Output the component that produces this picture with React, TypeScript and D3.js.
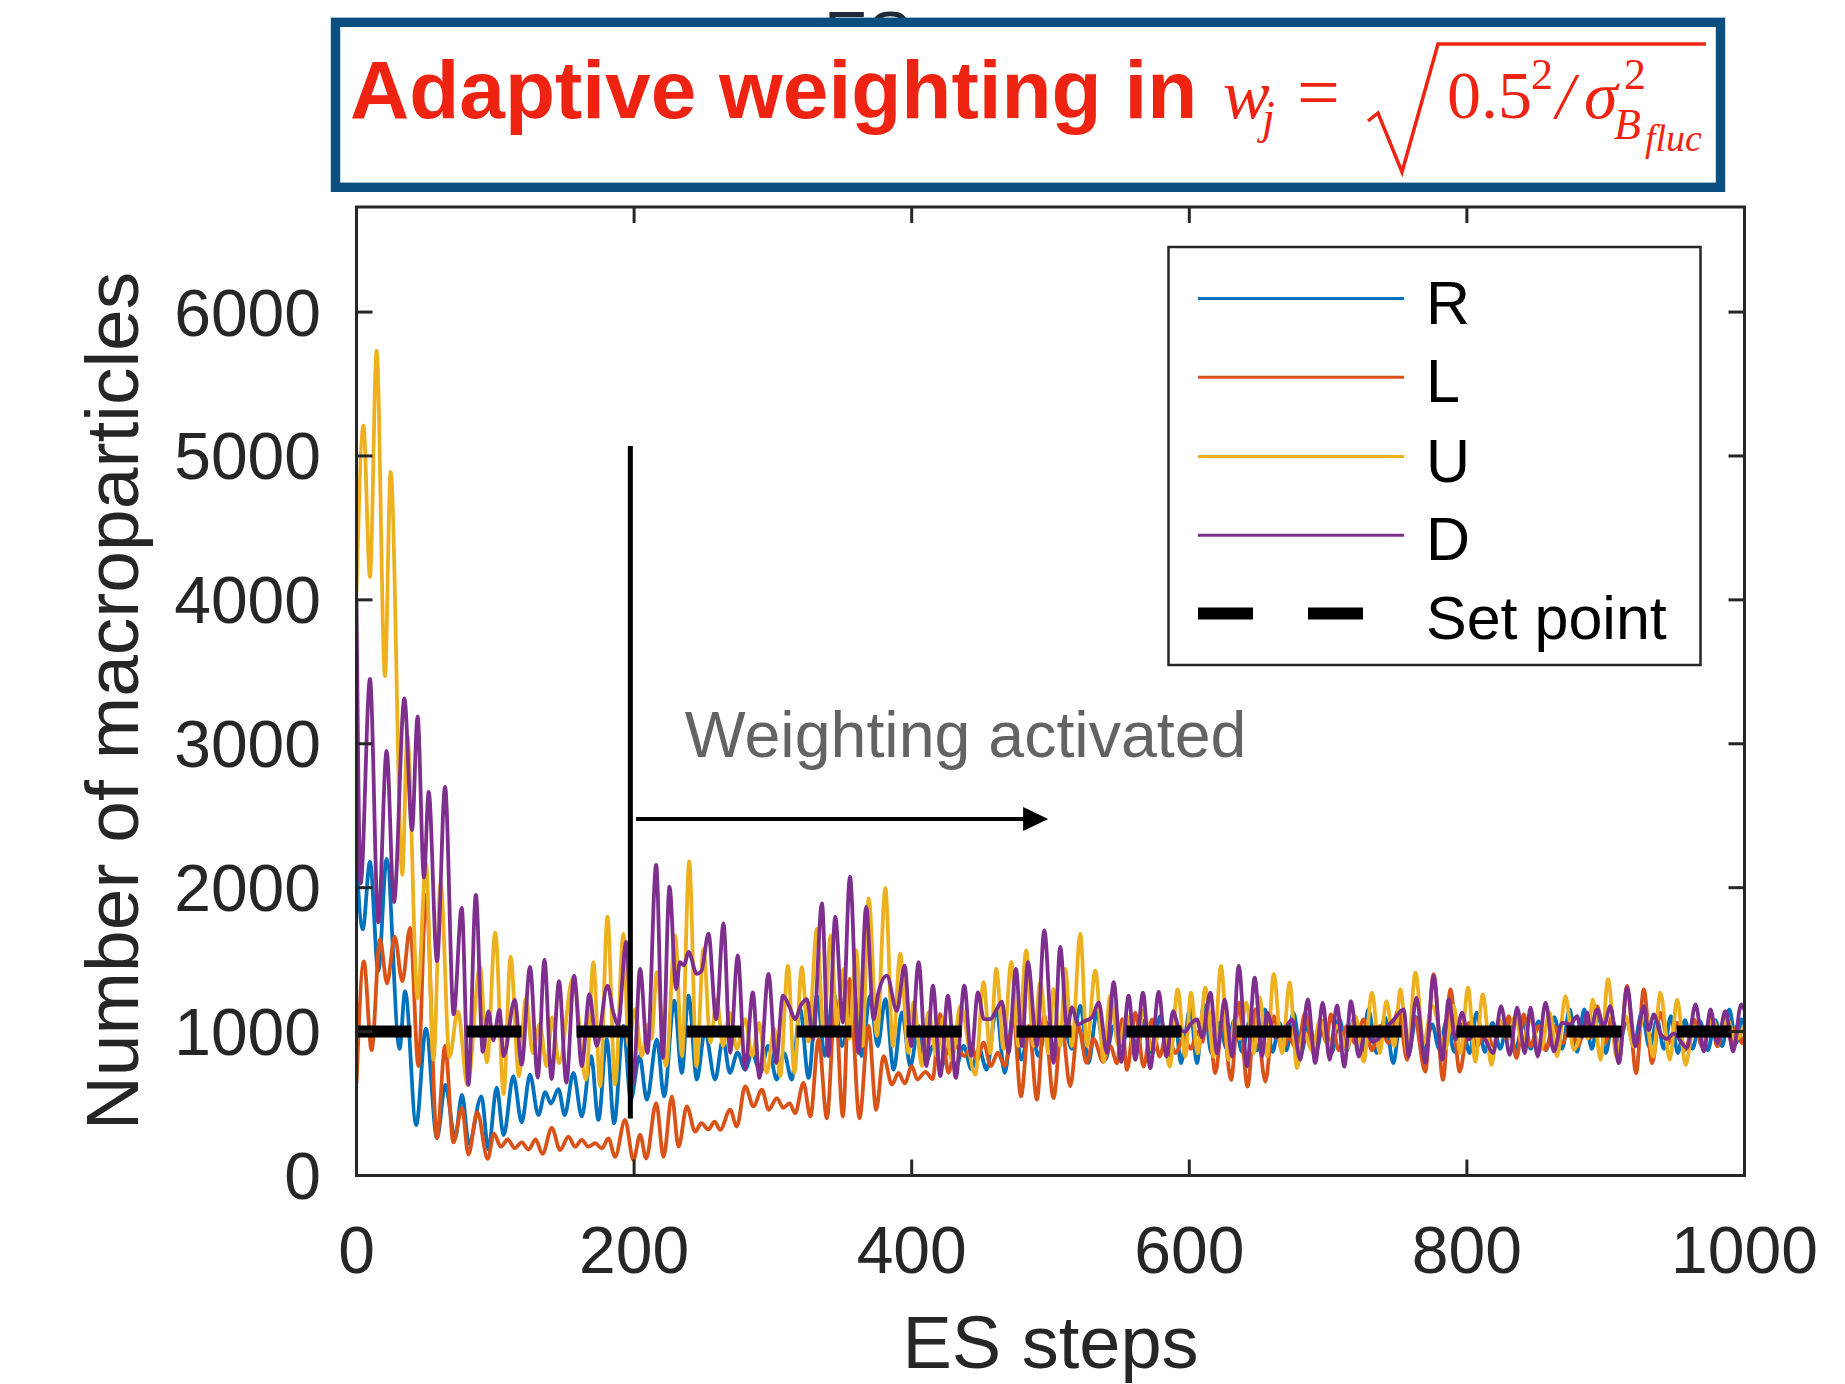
import React from 'react';
import * as d3 from 'd3';

type P = [number, number];

const xTicks = [0, 200, 400, 600, 800, 1000];
const yTicks = [0, 1000, 2000, 3000, 4000, 5000, 6000];
const seriesNames = ['R', 'L', 'U', 'D'];
const seriesColors = ['#0072BD', '#D95319', '#EDB120', '#7E2F8E'];
const setPointValue = 1000;
const activationStep = 197.3;
const activationRange: P = [396, 5070];
const arrowStart: P = [201.4, 2477];
const arrowEnd: P = [498.3, 2477];

const R: P[] = [
  [0, 2190], [4.5, 1710], [9.7, 2180], [15.7, 1420], [21.7, 2200], [31, 880], [35, 1280], [43, 350], [50, 1020], [58, 260], [64, 630], [71, 260], [76, 560], [81, 220], [90, 550], [95, 180], [101, 610], [106, 280], [113, 690], [119, 370], [125, 700], [131, 420], [136, 580], [140, 500], [145.5, 600], [150, 420],
  [156.3, 713], [162.3, 410], [169, 830], [174.3, 387], [180.3, 946], [185.6, 363], [192.3, 1040], [197.6, 527], [203.9, 830], [209.2, 527], [216.4, 946], [221.6, 550], [228.9, 1215], [234.4, 713], [239.2, 1250], [245.2, 667], [251, 1000], [258.4, 667], [264, 946], [269, 713], [274.5, 853], [280, 736], [285, 853], [291, 713], [296.5, 900], [302.8, 667], [308, 850], [313.6, 667], [319.6, 1156], [325.7, 678], [331.7, 1250], [337.5, 830], [343.7, 1273], [349.7, 900],
  [358, 1296], [364, 830], [370, 1250], [375.5, 900], [381, 1226], [387, 736], [393, 1133], [399, 760], [405, 1040], [410, 783], [415.5, 900], [421, 750], [426.5, 880], [432, 760], [437.5, 900], [443, 740], [448.5, 880], [454, 736], [461, 1156], [467, 713], [473.4, 1133], [479, 806], [485.4, 1040], [491.4, 830], [497.4, 1060], [503.4, 830], [509.4, 1040], [515.4, 880], [521.5, 1180], [527.4, 783], [533.4, 1133], [539.5, 806], [545.5, 1040], [551.5, 900], [557, 1090],
  [562, 880], [568, 1080], [573.5, 850], [579, 1107], [585, 830], [590, 1060], [594, 781], [600.7, 1166], [605.5, 781], [610.5, 1190], [616, 850], [621.5, 1060], [627, 880], [632.5, 1080], [638, 860], [643.5, 1070], [649, 870], [654.5, 1154], [660, 860], [665, 1060], [670, 870], [675, 1131], [680.5, 851], [686, 1060], [691.5, 870], [697, 1080], [702.5, 850], [708, 1090], [713.5, 870], [719, 1100], [724, 850], [729, 1154], [735, 851], [741, 1100], [747, 781], [752.5, 1120], [758, 850], [763.5, 1100], [769, 860], [775, 1050],
  [780, 880], [785.5, 1080], [791, 860], [796.5, 1050], [802, 851], [807, 1131], [813, 860], [818.5, 1060], [824, 880], [829.5, 1080], [835, 870], [840.5, 1060], [846, 880], [851.5, 1070], [857, 870], [863, 1100], [868.6, 880], [874, 1154], [879.4, 860], [884.5, 1154], [890, 880], [895, 1119], [900, 851], [905, 1070], [910, 920], [915, 1080], [920.2, 900], [926, 1131], [931.5, 890], [937, 1080], [942, 880], [947, 1107], [952, 851], [957, 1080], [962.5, 880], [968, 1070], [973.5, 870], [979, 1080], [984, 900], [989, 1154], [994, 920], [998, 1084], [1000, 1040],
];

const L: P[] = [
  [0, 640], [5.3, 1487], [10.9, 870], [16.9, 1640], [22, 1335], [27.5, 1660], [33, 1350], [38.6, 1720], [44.6, 760], [50, 1950], [58, 260], [63.8, 900], [69.8, 230], [76, 470], [80.6, 145], [87, 440], [94.5, 115], [99, 290], [104, 200], [109, 250], [114, 190], [119, 230], [124, 180], [129, 250], [134, 150], [140.7, 330], [146.7, 177],
  [152.7, 270], [157.5, 200], [162.3, 247], [167, 200], [172, 224], [176.7, 188], [181.5, 258], [186.3, 130], [193.5, 387], [199.5, 107], [204.3, 282], [208.7, 118], [215.9, 503], [221.2, 130], [227.2, 550], [232, 200], [238, 480], [244, 305], [248.5, 363], [253.5, 320], [258, 375], [262, 317], [269.2, 457], [274, 340], [280, 620], [286, 480], [292, 597], [297, 457], [302.8, 538], [307.5, 470], [312, 503], [316, 433], [322, 643], [327, 410], [332.9, 946], [338.9, 398], [344.9, 1203], [350.4, 410], [355.2, 1366],
  [362.4, 398], [368.9, 1040], [374.4, 457], [379.7, 830], [385.7, 632], [390.5, 713], [395, 640], [400.1, 760], [404, 667], [410, 720], [415, 670], [420.6, 1121], [426.5, 713], [431.5, 900], [438, 830], [443, 900], [447, 800], [451.8, 923], [457, 760], [462, 853], [467, 760], [473.4, 1086], [478.7, 550], [484.5, 1040], [490.2, 527], [495.5, 1110], [502.2, 538], [508, 1040], [514.2, 620], [520, 1040], [526, 783], [531, 950], [538, 790], [543, 900], [548, 780], [551.5, 1086], [555.1, 734],
  [561.1, 1131], [567.1, 757], [573.1, 1084], [578.6, 827], [584, 1010], [590, 850], [596, 960], [601, 880], [606, 1000], [609.5, 930], [613.2, 1154], [618.8, 711], [624, 1080], [630.1, 664], [635.6, 1201], [642, 618], [647.6, 1154], [654.8, 653], [660.8, 1107], [666.8, 870], [671.6, 960], [677.6, 870], [683.6, 1131], [689.6, 850], [695, 1050], [698.5, 930], [702, 1119], [707.6, 870], [713.6, 1040], [719.6, 920], [725.6, 1084], [731.6, 870], [737.6, 1040], [743.6, 920], [750.9, 1154], [756.9, 804], [762, 1107], [770, 722], [776, 1399],
  [782.8, 664], [788.1, 1294], [794.8, 722], [801.3, 1061], [807.3, 897], [813.3, 1010], [819.3, 897], [824.5, 1050], [827, 980], [830.1, 1107], [835.7, 816], [841, 1119], [845.8, 897], [851.8, 1040], [856.6, 874], [862.6, 1040], [868.6, 920], [874.6, 1040], [880, 900], [886, 1060], [889.5, 960], [893.8, 1177], [899.8, 920], [904.6, 1107], [909.4, 781], [915.4, 1317], [921.9, 711], [927.4, 1294], [933.4, 781], [939.4, 1131], [945.4, 920], [951.5, 1061], [957.5, 874], [963.5, 1084], [969.5, 897], [975.5, 1107], [980.4, 897], [986.3, 1084], [991, 920], [994.7, 1040], [998, 920], [1000, 970],
];

const U: P[] = [
  [0, 4050], [5, 5210], [9.7, 4160], [14.5, 5730], [20.5, 3470], [24.6, 4890], [33, 2090], [36.6, 3060], [44, 1230], [50, 2170], [55.5, 805], [60.6, 2030], [67, 825], [73, 1140], [80, 630], [89, 1450], [94, 786], [100, 1690], [106, 565], [111, 1520], [117, 690], [122, 1230], [127, 850], [132, 1050], [137, 760], [141, 1100], [146, 780],
  [156, 1377], [165.4, 667], [170.7, 1483], [175.5, 620], [180.8, 1798], [186.3, 632], [192.3, 1681], [196, 900], [200.7, 1156], [205.5, 830], [210, 1050], [212.5, 950], [216.4, 1413], [223, 760], [229.6, 1669], [234.5, 830], [239.7, 2182], [245, 760], [250, 1576], [255, 923], [259.6, 1226], [264, 900], [269, 1130], [274, 880], [280, 1086], [285, 830], [290, 1060], [295.6, 713], [301, 1020], [305.3, 690], [310.8, 1459], [315.5, 713], [320.8, 1448], [325.6, 930], [331.7, 1716], [336.5, 1000], [341.7, 1669], [346, 1050], [350.9, 1436],
  [355, 950], [360, 1564], [364.5, 900], [369, 1926], [375, 970], [381, 1996], [386.5, 900], [391.7, 1541], [397.7, 853], [401.3, 1203], [407.4, 760], [412, 1133], [418, 830], [423, 1100], [429, 800], [435, 1180], [445.8, 701], [451.8, 1343], [456.6, 850], [460.9, 1436], [466.2, 880], [471.7, 1483], [477, 900], [482.5, 1564], [487.8, 900], [492.6, 1340], [498.6, 850], [502.2, 1296], [507, 900], [510.6, 1436], [515.4, 900], [521.5, 1681], [526.2, 900], [532.3, 1424], [538.3, 795], [543, 1250], [549, 900],
  [555.1, 1107], [561.1, 827], [567.1, 1150], [573, 870], [580.3, 1038], [585.9, 757], [591.6, 1294], [597.1, 827], [601.2, 1271], [606, 850], [611.6, 1305], [617.6, 827], [622.8, 1457], [628.4, 804], [633.2, 1100], [636.3, 950], [641.1, 1201], [646.4, 850], [650.7, 1240], [656, 827], [660.8, 1399], [666.8, 850], [672.3, 1340], [677.6, 746], [682.4, 1000], [688.4, 870], [694.4, 1084], [700.4, 900], [706.4, 1040], [713.6, 880], [719.6, 1107], [725.6, 792], [731.6, 1271], [737.2, 850], [742, 1212], [747.7, 900], [752.1, 1294], [757.4, 850], [762.9, 1410], [768.9, 920], [774.9, 1180],
  [784.5, 880], [790.5, 1180], [795.3, 850], [800.8, 1305], [806.1, 792], [811.4, 1259], [817.7, 769], [823, 1084], [829, 944], [835, 1107], [839.8, 920], [845.8, 1084], [853, 870], [859.7, 1130], [865, 827], [871, 1247], [877, 874], [884, 1000], [887, 950], [890.7, 1224], [896.2, 804], [901.7, 1364], [907.7, 827], [914.2, 1107], [920.2, 897], [928.6, 1119], [934.2, 827], [939.4, 1271], [946.2, 804], [951.5, 1224], [957.5, 769], [963.5, 1038], [969.5, 944], [976.7, 1084], [982.7, 967], [987.5, 1084], [993.5, 944], [1000, 1040],
];

const D: P[] = [
  [0, 4000], [3, 2030], [9.7, 3450], [15.7, 1760], [21.7, 2950], [27, 1900], [34.5, 3315], [40, 2400], [44, 3190], [48.6, 2070], [52, 2665], [58, 1490], [63.8, 2700], [70, 1120], [75.8, 1860], [80.6, 630], [86, 1950], [91, 860], [95, 1140], [98.6, 940], [103, 1150], [106, 830], [114, 1220], [119, 770], [125, 1450], [130.6, 680], [135.4, 1500], [140.5, 670], [145.9, 1350], [151.2, 645], [156.8, 1389], [162.3, 760], [167.8, 1261], [173, 900], [180.8, 1320], [185, 1133], [188.5, 1050], [194.3, 1623], [199.5, 643],
  [204.3, 1436], [209.6, 853], [215.9, 2159], [220.7, 818], [225.5, 2007], [230.3, 1296], [233, 1483], [236, 1460], [239.2, 1553], [245.2, 1401], [248.5, 1420], [253.6, 1681], [259.1, 1086], [264.4, 1751], [269.2, 853], [274.7, 1529], [280, 736], [285.5, 1273], [290.3, 678], [296.8, 1401], [302.3, 783], [307.2, 1250], [312, 1170], [316, 1086], [320, 1180], [324.5, 1226], [329, 946], [335.3, 1891], [340, 830], [344.9, 1798], [350.4, 1063],
  [355.5, 2077], [361.7, 853], [367.2, 1867], [372.5, 1086], [376, 1270], [382.1, 1389], [389.3, 1145], [394.9, 1459], [399.7, 900], [405, 1483], [410.5, 760], [415.3, 1320], [420.6, 690], [426.1, 1250], [431.8, 678], [437.9, 1320], [442.9, 830], [447.7, 1273], [452, 1086], [456.6, 1086], [461, 1150], [465, 1208], [469.8, 853], [475.1, 1436], [479.5, 900], [483.7, 1483], [490.2, 900], [495.5, 1704], [502.2, 783], [507, 1588], [512, 1016], [515.4, 1168], [520, 1050], [524, 1070], [530, 1100], [534.7, 1203], [540.7, 853], [545.5, 1343], [551, 790],
  [556.3, 1250], [561.1, 804], [566.6, 1271], [571.9, 746], [577.9, 1275], [583.5, 827], [588.3, 1142], [592.3, 1030], [597, 1000], [600.7, 1050], [605.5, 1084], [609.2, 960], [615.2, 1271], [620, 851], [625.5, 1224], [630.8, 827], [635.6, 1457], [641.6, 757], [647.1, 1375], [652.4, 827], [656, 1131], [662, 960], [668, 1000], [674, 1084], [680, 804], [685.3, 1224], [690.8, 781], [696.1, 1201], [701.1, 804], [706.4, 1182], [711.7, 757], [716.5, 1212], [722, 827], [727, 1000], [732, 930], [737, 960], [742, 1030], [747, 1080], [754.5, 1154], [758, 827], [763.6, 1236], [770, 781],
  [776, 1387], [782.1, 804], [786.9, 1224], [791.7, 944], [796.5, 1131], [801.3, 944], [807.3, 1020], [813.3, 944], [818.9, 851], [824.6, 1177], [830.9, 839], [836.2, 1166], [841.7, 851], [845.8, 1166], [851, 827], [856.6, 1201], [862.6, 862], [868.6, 1061], [874.6, 1050], [879.4, 1107], [883, 960], [886.6, 1131], [889, 1010], [893.8, 1154], [898.6, 1040], [903.4, 1177], [909.4, 781], [915.4, 1305], [921.4, 897], [927.4, 1177], [931, 1010], [934.6, 1119], [939.4, 986], [944.2, 950], [949, 986], [958.6, 886], [964.7, 1189], [970.7, 862], [975.5, 1154], [980.4, 920], [986.3, 1142], [991.8, 862], [997.6, 1189], [1000, 1150],
];

const seriesData = [R, L, U, D];

const W = 1845;
const H = 1384;
const PL = 356.5, PR = 1744.5, PT = 207, PB = 1175.5;
const AX = '#262626';
const SANS = "'Liberation Sans', Arial, Helvetica, sans-serif";
const SERIF = "'Liberation Serif', 'Times New Roman', serif";
const RED = '#ef2312';

export default function App() {
  React.useEffect(() => {
    document.body.style.margin = '0';
    document.body.style.overflow = 'hidden';
  }, []);

  const x = d3.scaleLinear().domain([0, 1000]).range([PL, PR]);
  const y = d3.scaleLinear().domain([0, 6730]).range([PB, PT]);
  const line = d3.line<P>().x(d => x(d[0])).y(d => y(d[1])).curve(d3.curveMonotoneX);

  const legendX0 = 1198, legendX1 = 1404, legendTextX = 1426;
  const legendRows = [298.5, 377.3, 456.5, 535.3, 613.5];
  const tick = 16;

  return (
    <svg width={W} height={H} style={{ position: 'absolute', left: 0, top: 0 }} fontFamily={SANS}>
      <rect width={W} height={H} fill="#fff" />
      <defs>
        <clipPath id="plotclip">
          <rect x={PL} y={PT} width={PR - PL} height={PB - PT} />
        </clipPath>
      </defs>

      {/* title partly hidden behind the box */}
      <text x={824} y={58} fontSize={66} fill="#1e2a36">ES</text>

      {/* title box */}
      <rect x={335.5} y={22.3} width={1385} height={165} fill="#fff" stroke="#0b4f81" strokeWidth={9.4} />
      <text x={350} y={118} fontSize={82} fontWeight="bold" fill={RED}>Adaptive weighting in</text>
      <g fill={RED} fontFamily={SERIF} fontStyle="italic">
        <text x={1223} y={118} fontSize={70}>w</text>
        <text x={1262} y={133} fontSize={46}>j</text>
        <text x={1297} y={118} fontSize={76} fontStyle="normal">=</text>
        <text x={1447} y={118} fontSize={68} fontStyle="normal">0.5</text>
        <text x={1531} y={89} fontSize={44} fontStyle="normal">2</text>
        <text x={1556} y={118} fontSize={66}>/</text>
        <text x={1584} y={118} fontSize={68}>σ</text>
        <text x={1624} y={89} fontSize={44} fontStyle="normal">2</text>
        <text x={1614} y={139} fontSize={44}>B</text>
        <text x={1645} y={151} fontSize={38}>fluc</text>
      </g>
      <path d="M1368,121 L1378,113 L1402,172 L1438,44 L1706,44" fill="none" stroke={RED} strokeWidth={3.5} strokeLinejoin="miter" />

      {/* data */}
      <g clipPath="url(#plotclip)" fill="none" strokeWidth={3.8} strokeLinejoin="round">
        {seriesData.map((s, i) => (
          <path key={seriesNames[i]} d={line(s) || ''} stroke={seriesColors[i]} />
        ))}
        <line x1={x(0)} x2={x(1000)} y1={y(setPointValue)} y2={y(setPointValue)} stroke="#000" strokeWidth={12} strokeDasharray="55 55" />
      </g>

      {/* activation marker */}
      <line x1={x(activationStep)} x2={x(activationStep)} y1={y(activationRange[0])} y2={y(activationRange[1])} stroke="#000" strokeWidth={5} />
      <line x1={x(arrowStart[0])} x2={x(arrowEnd[0]) - 20} y1={y(arrowStart[1])} y2={y(arrowEnd[1])} stroke="#000" strokeWidth={4} />
      <path d={`M${x(arrowEnd[0])},${y(arrowEnd[1])} L${x(arrowEnd[0]) - 25},${y(arrowEnd[1]) - 12} L${x(arrowEnd[0]) - 25},${y(arrowEnd[1]) + 12} Z`} fill="#000" />
      <text x={x(236.5)} y={y(2905)} fontSize={64.5} fill="#636363">Weighting activated</text>

      {/* axes box */}
      <g stroke={AX} strokeWidth={3} fill="none">
        <rect x={PL} y={PT} width={PR - PL} height={PB - PT} />
        {xTicks.map(t => (
          <g key={'xt' + t}>
            <line x1={x(t)} x2={x(t)} y1={PB} y2={PB - tick} />
            <line x1={x(t)} x2={x(t)} y1={PT} y2={PT + tick} />
          </g>
        ))}
        {yTicks.map(t => (
          <g key={'yt' + t}>
            <line x1={PL} x2={PL + tick} y1={y(t)} y2={y(t)} />
            <line x1={PR} x2={PR - tick} y1={y(t)} y2={y(t)} />
          </g>
        ))}
      </g>
      <g fill={AX} fontSize={66}>
        {xTicks.map(t => (
          <text key={'xl' + t} x={x(t)} y={1273} textAnchor="middle">{t}</text>
        ))}
        {yTicks.map(t => (
          <text key={'yl' + t} x={321} y={y(t) + 23.5} textAnchor="end">{t}</text>
        ))}
      </g>
      <text x={(PL + PR) / 2} y={1368} textAnchor="middle" fontSize={74} fill={AX}>ES steps</text>
      <text transform="translate(138,701) rotate(-90)" textAnchor="middle" fontSize={75} fill={AX}>Number of macroparticles</text>

      {/* legend */}
      <rect x={1168.5} y={247} width={532} height={418} fill="#fff" stroke={AX} strokeWidth={2.5} />
      {seriesNames.map((n, i) => (
        <g key={'lg' + n}>
          <line x1={legendX0} x2={legendX1} y1={legendRows[i]} y2={legendRows[i]} stroke={seriesColors[i]} strokeWidth={3} />
          <text x={legendTextX} y={legendRows[i] + 25} fontSize={61} fill="#000">{n}</text>
        </g>
      ))}
      <line x1={legendX0} x2={legendX1} y1={legendRows[4]} y2={legendRows[4]} stroke="#000" strokeWidth={12} strokeDasharray="55 55" />
      <text x={legendTextX} y={legendRows[4] + 25} fontSize={61} fill="#000">Set point</text>
    </svg>
  );
}
